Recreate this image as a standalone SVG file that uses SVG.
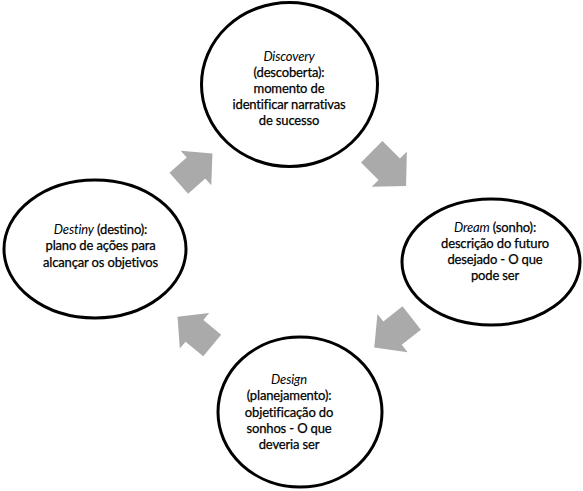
<svg xmlns="http://www.w3.org/2000/svg" xmlns:xlink="http://www.w3.org/1999/xlink" width="583" height="491" viewBox="0 0 583 491">
<style>
.node ellipse{fill:#fff;stroke:#000;stroke-width:3}
.node text{font-family:Lato,"Open Sans",sans-serif;font-size:13px;letter-spacing:-0.15px;fill:#000;stroke:#000;stroke-width:0.25;text-anchor:middle}
.it{font-style:italic;stroke-width:0}
.arr{fill:#aaaaaa}
</style>
<defs>
<polygon id="arrow" points="0,-14 23,-14 23,-23 45,0 23,23 23,14 0,14"/>
</defs>
<rect width="583" height="491" fill="#fff"/>
<g id="connectors" class="arr">
<use xlink:href="#arrow" href="#arrow" transform="translate(178.8,183.3) rotate(-41.6)"/>
<use xlink:href="#arrow" href="#arrow" transform="translate(371.7,151.7) rotate(45) scale(1.08)"/>
<use xlink:href="#arrow" href="#arrow" transform="translate(411.7,318) rotate(141.7) scale(1.06)"/>
<use xlink:href="#arrow" href="#arrow" transform="translate(212.2,345.5) rotate(219.6)"/>
</g>
<g id="discovery" class="node">
<ellipse cx="289.5" cy="84.5" rx="88" ry="82"/>
<text x="289" y="61"><tspan class="it">Discovery</tspan></text>
<text x="289" y="77">(descoberta):</text>
<text x="289" y="93">momento de</text>
<text x="289" y="109">identificar narrativas</text>
<text x="289" y="125">de sucesso</text>
</g>
<g id="dream" class="node">
<ellipse cx="491" cy="262" rx="89" ry="63"/>
<text x="495" y="232"><tspan class="it">Dream</tspan> (sonho):</text>
<text x="495" y="248">descrição do futuro</text>
<text x="495" y="264">desejado - O que</text>
<text x="495" y="280">pode ser</text>
</g>
<g id="destiny" class="node">
<ellipse cx="95" cy="249" rx="91" ry="69"/>
<text x="100.5" y="234"><tspan class="it">Destiny</tspan> (destino):</text>
<text x="100.5" y="250">plano de ações para</text>
<text x="100.5" y="266.5">alcançar os objetivos</text>
</g>
<g id="design" class="node">
<ellipse cx="300" cy="412" rx="82" ry="75"/>
<text x="289" y="384"><tspan class="it">Design</tspan></text>
<text x="289" y="400">(planejamento):</text>
<text x="289" y="416.5">objetificação do</text>
<text x="289" y="433">sonhos - O que</text>
<text x="289" y="449">deveria ser</text>
</g>
</svg>
